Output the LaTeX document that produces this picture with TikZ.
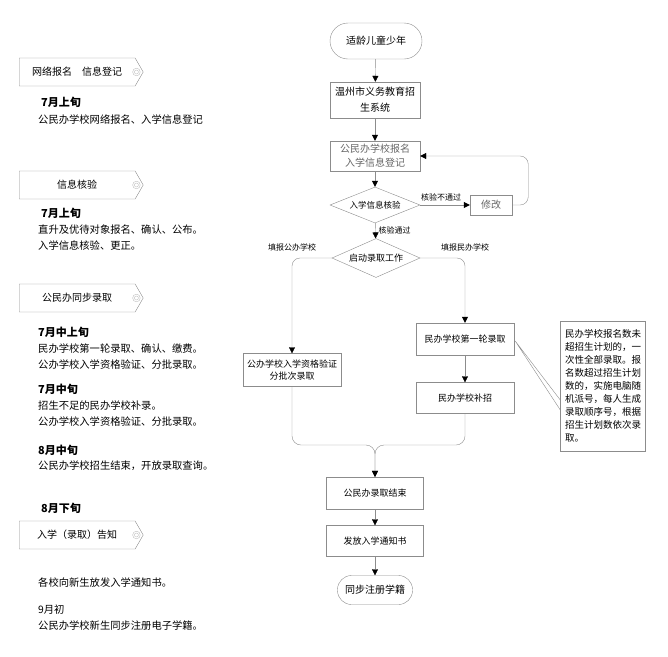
\documentclass[tikz,border=0pt]{standalone}
\usepackage{fontspec}
\setmainfont{Noto Sans CJK SC}
\usetikzlibrary{arrows.meta,calc,shapes.geometric,shapes.symbols}

\definecolor{linegray}{gray}{0.55}
\definecolor{txtgray}{gray}{0.4}
\definecolor{markgray}{gray}{0.75}

\begin{document}
\begin{tikzpicture}[x=1pt, y=-1pt, >={Triangle[length=6pt, width=6pt, color=black]},
  box/.style={draw=linegray, rectangle, align=center, inner sep=1pt,
    font=\fontsize{9}{12}\selectfont},
  term/.style={box, rounded corners=15pt, font=\fontsize{10}{12}\selectfont},
  decide/.style={draw=linegray, diamond, aspect=2.5, inner sep=0pt,
    font=\fontsize{8.5}{10}\selectfont},
  tag/.style={draw=linegray, signal, signal to=east, signal pointer angle=120,
    minimum width=124pt, minimum height=28pt, inner sep=0pt,
    font=\fontsize{10}{12}\selectfont},
  month/.style={anchor=west, inner sep=0pt, font=\fontsize{11}{13}\bfseries\selectfont},
  body/.style={anchor=west, align=left, inner sep=0pt, font=\fontsize{10.3}{16}\selectfont},
  lbl/.style={font=\fontsize{8}{10}\selectfont, inner sep=1pt},
  line/.style={draw=linegray, ->}]
  \useasboundingbox (0,0) rectangle (668,656);

  % Left column: stages
  \node[tag, anchor=west] (t1) at (19,72) {网络报名　信息登记};
  \node[tag, anchor=west] (t2) at (19,185) {信息核验};
  \node[tag, anchor=west] (t3) at (19,298) {公民办同步录取};
  \node[tag, anchor=west] (t4) at (19,535) {入学（录取）告知};
  \foreach \t in {t1,t2,t3,t4}
    \draw[markgray] (\t.east) ++(-7,0) circle (3.8pt) circle (2pt);

  % Left column: dates and notes
  \node[month] (m1) at (41,102) {7月上旬};
  \node[body] (b1) at (38,120) {公民办学校网络报名、入学信息登记};
  \node[month] (m2) at (41,213) {7月上旬};
  \node[body] (b2) at (38,238) {直升及优待对象报名、确认、公布。\\入学信息核验、更正。};
  \node[month] (m3) at (38,332) {7月中上旬};
  \node[body] (b3) at (38,357) {民办学校第一轮录取、确认、缴费。\\公办学校入学资格验证、分批录取。};
  \node[month] (m4) at (38,389) {7月中旬};
  \node[body] (b4) at (38,414) {招生不足的民办学校补录。\\公办学校入学资格验证、分批录取。};
  \node[month] (m5) at (38,450) {8月中旬};
  \node[body] (b5) at (38,466) {公民办学校招生结束，开放录取查询。};
  \node[month] (m6) at (41,508) {8月下旬};
  \node[body] (b6) at (38,583) {各校向新生放发入学通知书。};
  \node[body] (b7) at (38,618) {9月初\\公民办学校新生同步注册电子学籍。};

  % Right column: flow chart
  \node[term, minimum width=92pt, minimum height=36pt, rounded corners=18pt] (start) at (376,41) {适龄儿童少年};
  \node[box, minimum width=90pt, minimum height=36pt, font=\fontsize{10}{16}\selectfont] (sys) at (375,100) {温州市义务教育招\\生系统};
  \node[box, minimum width=90pt, minimum height=30pt, text=txtgray, font=\fontsize{10}{14}\selectfont] (reg) at (375,156) {公民办学校报名\\入学信息登记};
  \node[decide, minimum width=90pt, minimum height=36pt] (chk) at (375,205) {入学信息核验};
  \node[box, minimum width=42pt, minimum height=20pt, text=txtgray, font=\fontsize{10}{12}\selectfont] (fix) at (491,205) {修改};
  \node[decide, minimum width=88pt, minimum height=39pt, font=\fontsize{9}{10}\selectfont] (adm) at (376,258) {启动录取工作};
  \node[box, minimum width=98pt, minimum height=33pt] (pub) at (292,370) {公办学校入学资格验证\\分批次录取};
  \node[box, minimum width=98pt, minimum height=32pt] (pr1) at (465,339) {民办学校第一轮录取};
  \node[box, minimum width=98pt, minimum height=31pt] (pr2) at (465,398) {民办学校补招};
  \node[box, minimum width=85pt, minimum height=130pt, align=left,
    font=\fontsize{9.5}{13}\selectfont] (note) at (603,386)
    {民办学校报名数未\\超招生计划的，一\\次性全部录取。报\\名数超过招生计划\\数的，实施电脑随\\机派号，每人生成\\录取顺序号，根据\\招生计划数依次录\\取。};
  \node[box, minimum width=97pt, minimum height=32pt] (fin) at (375,493) {公民办录取结束};
  \node[box, minimum width=97pt, minimum height=31pt] (ntc) at (375,541) {发放入学通知书};
  \node[term, minimum width=75pt, minimum height=29pt, rounded corners=14pt] (done) at (375,590) {同步注册学籍};
  \coordinate (mg) at (375,445);

  % Connectors
  \draw[line] (start) -- (sys);
  \draw[line] (sys) -- (reg);
  \draw[line] (reg) -- (chk);
  \draw[line] (chk) -- node[lbl, above=3pt, pos=0.42] {核验不通过} (fix);
  \draw[line, rounded corners=8pt] (fix.east) -- ++(16,0) |- (reg.east);
  \draw[line] (chk) -- node[lbl, right=2pt] {核验通过} (adm);
  \draw[line, rounded corners=8pt] (adm.west) -| node[lbl, above=6pt, pos=0.5] {填报公办学校} (pub.north);
  \draw[line, rounded corners=8pt] (adm.east) -| node[lbl, above=6pt, pos=0.5] {填报民办学校} (pr1.north);
  \draw[line] (pr1) -- (pr2);
  \draw[linegray] ($(note.west)+(0,14)$) -- ($(pr1.east)+(1,2)$) -- ($(note.west)+(0,24)$);
  \draw[line, rounded corners=9pt] (pub.south) |- (mg) -- (fin.north);
  \draw[line, rounded corners=9pt] (pr2.south) |- (mg) -- (fin.north);
  \draw[line] (fin) -- (ntc);
  \draw[line] (ntc) -- (done);
\end{tikzpicture}
\end{document}
